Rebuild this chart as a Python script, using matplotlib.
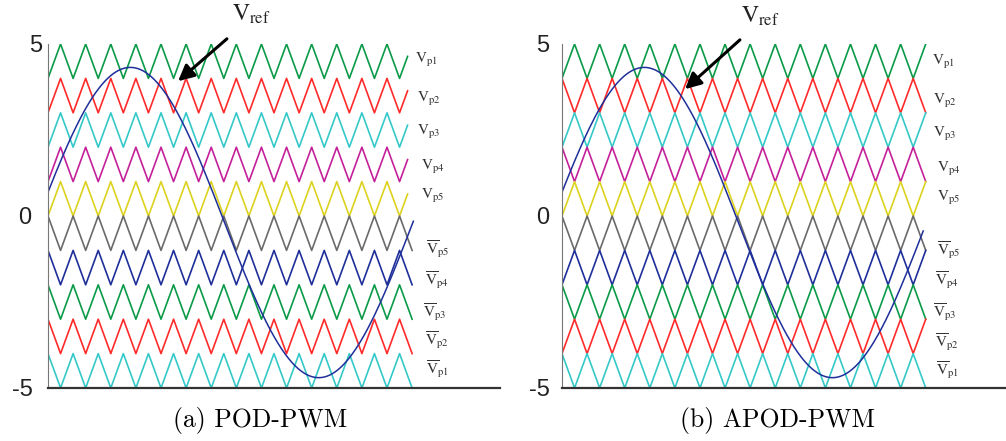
import numpy as np
import matplotlib
matplotlib.use("Agg")
import matplotlib.pyplot as plt
from matplotlib.patches import FancyArrowPatch
from matplotlib.transforms import ScaledTranslation

# carrier bands, top to bottom (lower edge of each band)
band_bottoms = [4, 3, 2, 1, 0, -1, -2, -3, -4, -5]
band_colors = ['#0a9a48', '#ff2a2a', '#35c8c8', '#c4209a', '#dcd21e',
               '#6a6a6a', '#1f2f9a', '#0a9a48', '#ff2a2a', '#35c8c8']
# True -> carrier starts at its minimum at t = 0
pod_start_min = [True, True, True, True, True, False, False, False, False, False]
apod_start_min = [True, False, True, False, True, False, True, False, True, False]
# where the carriers stop (in carrier periods)
pod_end = [14.32, 14.32, 14.32, 14.32, 14.32, 14.5, 14.5, 14.5, 14.5, 14.5]
apod_end = [14.5] * 10

# reference wave (time in carrier periods)
ref_period = 15.0
ref_amp = 4.51
ref_offset = -0.19
ref_peak_t = 3.28
pod_ref_end = 14.55
apod_ref_end = 14.4

upper_labels = [r'$\mathrm{V}_{\mathrm{p1}}$', r'$\mathrm{V}_{\mathrm{p2}}$', r'$\mathrm{V}_{\mathrm{p3}}$',
                r'$\mathrm{V}_{\mathrm{p4}}$', r'$\mathrm{V}_{\mathrm{p5}}$']
lower_labels = [r'$\overline{\mathrm{V}}_{\mathrm{p5}}$', r'$\overline{\mathrm{V}}_{\mathrm{p4}}$',
                r'$\overline{\mathrm{V}}_{\mathrm{p3}}$', r'$\overline{\mathrm{V}}_{\mathrm{p2}}$',
                r'$\overline{\mathrm{V}}_{\mathrm{p1}}$']

plt.rcParams['mathtext.fontset'] = 'stix'
plt.rcParams['font.family'] = ['Liberation Sans', 'DejaVu Sans']

W, H = 1006, 441
fig = plt.figure(figsize=(W / 100, H / 100), dpi=100)


def px(x, y):
    # picture pixel (from top-left) -> figure fraction
    return x / W, 1 - y / H


def carrier(bottom, start_min, t_end):
    # triangle vertices every half period, cut at t_end
    t = np.arange(0, t_end + 0.5, 0.5)
    v = np.where(np.arange(len(t)) % 2 == 0, bottom, bottom + 1)
    if not start_min:
        v = 2 * bottom + 1 - v
    v_end = np.interp(t_end, t, v)
    keep = t < t_end
    return np.append(t[keep], t_end), np.append(v[keep], v_end)


def draw_panel(rect, xmax, start_min, ends, ref_end):
    ax = fig.add_axes(rect)
    for b, c, sm, te in zip(band_bottoms, band_colors, start_min, ends):
        t, v = carrier(b, sm, te)
        ax.plot(t, v, color=c, lw=1.2)
    t = np.linspace(0, ref_end, 400)
    ax.plot(t, ref_offset + ref_amp * np.cos(2 * np.pi * (t - ref_peak_t) / ref_period),
            color='#1f2f9a', lw=1.1)
    ax.set_xlim(0, xmax)
    ax.set_ylim(-5, 5)
    ax.set_xticks([])
    ax.set_yticks([-5, 0, 5])
    ax.set_yticklabels(['-5', '0', '5'], fontsize=17, color='#222222')
    ax.tick_params(axis='y', length=0)
    for s in ['top', 'right']:
        ax.spines[s].set_visible(False)
    ax.spines['bottom'].set_color('#333333')
    ax.spines['bottom'].set_linewidth(1.6)
    ax.spines['left'].set_color('#777777')
    ax.spines['left'].set_linewidth(0.8)
    return ax


ax1 = draw_panel([48 / W, 53 / H, 452 / W, 344 / H], 18.0, pod_start_min, pod_end, pod_ref_end)
ax2 = draw_panel([562 / W, 53 / H, 444 / W, 344 / H], 17.7, apod_start_min, apod_end, apod_ref_end)

ax1.tick_params(axis='y', pad=4)
ax2.tick_params(axis='y', pad=9)
# the left panel's "0" and "-5" sit further left in the original
for lab, dx in zip(ax1.get_yticklabels(), [-10, -11, 0]):
    lab.set_transform(lab.get_transform() + ScaledTranslation(dx / 100, 0, fig.dpi_scale_trans))

# carrier labels (left x of V, baseline y), in picture pixels
pod_upper_pos = [(415, 63), (417, 102), (417, 135), (421, 170), (421, 199)]
pod_lower_pos = [(426, 254), (425, 285), (423, 317), (425, 345), (426, 374)]
apod_upper_pos = [(932, 65), (933, 104), (933, 137), (937, 172), (937, 201)]
apod_lower_pos = [(937, 255), (935, 285), (933, 317), (935, 347), (936, 375)]

for labels, positions in [(upper_labels, pod_upper_pos), (lower_labels, pod_lower_pos),
                          (upper_labels, apod_upper_pos), (lower_labels, apod_lower_pos)]:
    for s, (x, y) in zip(labels, positions):
        fig.text(*px(x, y), s, fontsize=11, color='#333333', ha='left', va='baseline')

# V_ref with arrows
for (tx, ty), (ax0, ay0), (ax_, ay_) in [((232, 21), (229, 37), (176, 83)),
                                         ((741, 23), (742, 38), (683, 91))]:
    fig.text(*px(tx, ty), r'$\mathrm{V}_{\mathrm{ref}}$', fontsize=17, color='#222222',
             ha='left', va='baseline')
    fig.patches.append(FancyArrowPatch(
        px(ax0, ay0), px(ax_, ay_), transform=fig.transFigure, arrowstyle='-|>',
        mutation_scale=24, lw=2.2, color='black'))

fig.text(*px(260, 427), '(a) POD-PWM', family='cmr10', fontsize=18.5, ha='center', va='baseline')
fig.text(*px(777, 427), '(b) APOD-PWM', family='cmr10', fontsize=18.5, ha='center', va='baseline')

fig.savefig('out.png', dpi=100)
